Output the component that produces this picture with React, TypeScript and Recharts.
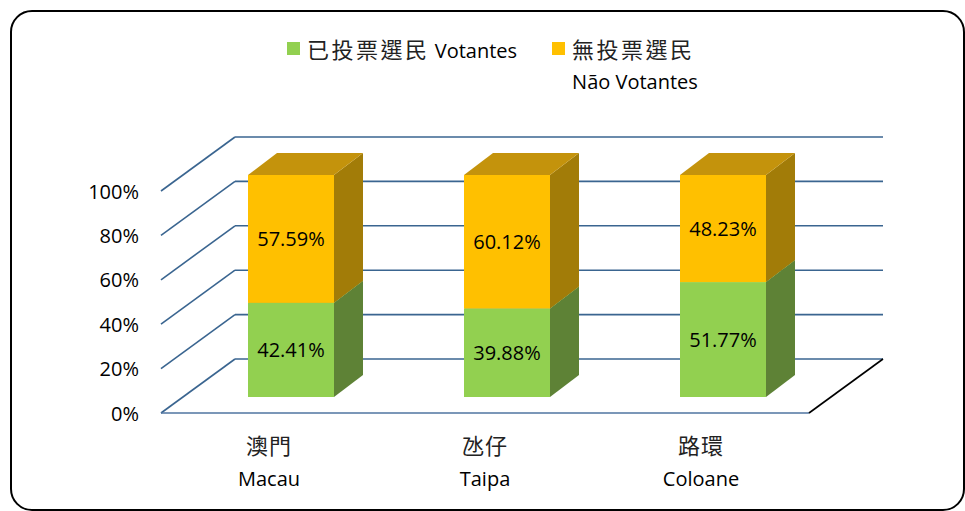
import { BarChart, Bar, XAxis, YAxis, CartesianGrid, Legend, LabelList } from "recharts";

const REGIONS_ZH = ["澳門", "氹仔", "路環"];
const REGIONS_PT = ["Macau", "Taipa", "Coloane"];
const VOTERS = [42.41, 39.88, 51.77];
const NON_VOTERS = [57.59, 60.12, 48.23];
const Y_TICKS = [0, 20, 40, 60, 80, 100];
const LEGEND_ZH = ["已投票選民", "無投票選民"];
const LEGEND_PT = ["Votantes", "Não Votantes"];

const DATA = REGIONS_ZH.map((zh, i) => ({
  region: `${zh}\n${REGIONS_PT[i]}`,
  voters: VOTERS[i],
  nonVoters: NON_VOTERS[i],
}));

const W = 965;
const H = 511;
const MARGIN = { top: 175, right: 134, bottom: 74, left: 123 };
const Y_AXIS_W = 60;
const X_AXIS_H = 40;
const PLOT_LEFT = MARGIN.left + Y_AXIS_W;
const PLOT_BOTTOM = H - MARGIN.bottom - X_AXIS_H;

// fake 3d: floor front edge sits ahead of the bar faces, back wall behind them
const FRONT = { dx: -22, dy: 16 };
const BACK = { dx: 52, dy: -38 };
const DEPTH = { dx: 29, dy: 22 };

const FONT = "'Open Sans', 'Noto Sans CJK TC', sans-serif";
const CJK = "'Noto Sans CJK TC', sans-serif";
const GRID = "#3A6590";

const GREEN = { front: "#92D050", top: "#76A83E", side: "#5E8236" };
const GOLD = { front: "#FFC000", top: "#C4930C", side: "#A27C08" };

function Box3D(props: any) {
  const { x, y, width, height, colors } = props;
  if (width == null || height == null) return null;
  const r = x + width;
  const b = y + height;
  return (
    <g>
      <rect x={x} y={y} width={width} height={height} fill={colors.front} />
      <polygon
        points={`${r},${y} ${r + DEPTH.dx},${y - DEPTH.dy} ${r + DEPTH.dx},${b - DEPTH.dy} ${r},${b}`}
        fill={colors.side}
      />
      <polygon
        points={`${x},${y} ${x + DEPTH.dx},${y - DEPTH.dy} ${r + DEPTH.dx},${y - DEPTH.dy} ${r},${y}`}
        fill={colors.top}
      />
    </g>
  );
}

function GridLine(props: any) {
  const { x1, x2, y1, index } = props;
  const y = y1;
  const isFloor = Math.abs(y - PLOT_BOTTOM) < 1;
  return (
    <g key={`g-${index}`}>
      <line x1={x1 + FRONT.dx} y1={y + FRONT.dy} x2={x1 + BACK.dx} y2={y + BACK.dy} stroke={GRID} strokeWidth={1.6} />
      <line x1={x1 + BACK.dx} y1={y + BACK.dy} x2={x2 + BACK.dx} y2={y + BACK.dy} stroke={GRID} strokeWidth={1.6} />
      {isFloor && (
        <>
          <line x1={x1 + FRONT.dx} y1={y + FRONT.dy} x2={x2 + FRONT.dx} y2={y + FRONT.dy} stroke="#4F74A0" strokeWidth={1.6} />
          <line x1={x2 + FRONT.dx} y1={y + FRONT.dy} x2={x2 + BACK.dx} y2={y + BACK.dy} stroke="#000" strokeWidth={1.6} />
        </>
      )}
    </g>
  );
}

function PctTick({ y, payload }: any) {
  return (
    <text
      x={PLOT_LEFT + FRONT.dx - 22}
      y={y + FRONT.dy}
      textAnchor="end"
      dominantBaseline="central"
      fontSize={20}
      fontFamily={FONT}
      fill="#000"
    >
      {payload.value}%
    </text>
  );
}

function RegionTick({ x, payload }: any) {
  const [zh, pt] = String(payload.value).split("\n");
  const cx = x + FRONT.dx;
  return (
    <g>
      <text x={cx} y={PLOT_BOTTOM + 47} textAnchor="middle" dominantBaseline="central" fontSize={22} fontFamily={CJK} fill="#222" letterSpacing={1}>
        {zh}
      </text>
      <text x={cx} y={PLOT_BOTTOM + 81} textAnchor="middle" dominantBaseline="central" fontSize={20} fontFamily={FONT} fill="#000">
        {pt}
      </text>
    </g>
  );
}

function LegendBox({ payload }: any) {
  const items = payload || [];
  return (
    <div style={{ display: "flex", paddingLeft: 287, gap: 35, fontFamily: FONT, fontSize: 20, lineHeight: "31px", color: "#000" }}>
      {items.map((p: any, i: number) => (
        <div key={i} style={{ display: "flex", alignItems: "flex-start" }}>
          <span style={{ display: "inline-block", width: 13, height: 13, background: p.color, marginTop: 9, marginRight: 7 }} />
          <span style={{ whiteSpace: "pre-line" }}>
            <span style={{ fontFamily: CJK, fontSize: 22, color: "#222", letterSpacing: 2.5 }}>{LEGEND_ZH[i]}</span>
            {i === 0 ? " " : "\n"}
            {LEGEND_PT[i]}
          </span>
        </div>
      ))}
    </div>
  );
}

const pct = (v: any) => `${Number(v).toFixed(2)}%`;

export default function App() {
  return (
    <div style={{ position: "absolute", left: 0, top: 0, width: W, height: H, background: "#fff" }}>
      <div
        style={{
          position: "absolute",
          left: 10,
          top: 10,
          width: 955,
          height: 501,
          boxSizing: "border-box",
          border: "2.6px solid #000",
          borderRadius: 22,
        }}
      />
      <BarChart width={W} height={H} data={DATA} margin={MARGIN} barSize={86}>
        <CartesianGrid vertical={false} horizontal={(p: any) => <GridLine {...p} />} />
        <XAxis dataKey="region" height={X_AXIS_H} axisLine={false} tickLine={false} tick={<RegionTick />} interval={0} />
        <YAxis width={Y_AXIS_W} domain={[0, 100]} ticks={Y_TICKS} axisLine={false} tickLine={false} tick={<PctTick />} />
        <Legend
          layout="horizontal"
          verticalAlign="middle"
          align="center"
          wrapperStyle={{ top: 33, left: 0, width: W }}
          content={<LegendBox />}
        />
        <Bar
          dataKey="voters"
          name={LEGEND_ZH[0]}
          stackId="s"
          fill={GREEN.front}
          isAnimationActive={false}
          shape={(p: any) => <Box3D {...p} colors={GREEN} />}
        >
          <LabelList dataKey="voters" position="center" formatter={pct} fill="#000" fontSize={20} fontFamily={FONT} />
        </Bar>
        <Bar
          dataKey="nonVoters"
          name={LEGEND_ZH[1]}
          stackId="s"
          fill={GOLD.front}
          isAnimationActive={false}
          shape={(p: any) => <Box3D {...p} colors={GOLD} />}
        >
          <LabelList dataKey="nonVoters" position="center" formatter={pct} fill="#000" fontSize={20} fontFamily={FONT} />
        </Bar>
      </BarChart>
    </div>
  );
}
